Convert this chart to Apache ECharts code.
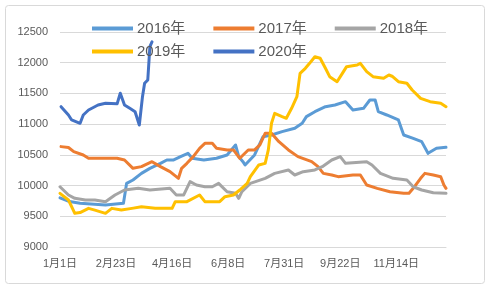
<!DOCTYPE html>
<html><head><meta charset="utf-8">
<script src="https://cdn.jsdelivr.net/npm/echarts@6/dist/echarts.min.js"></script>
<style>html,body{margin:0;padding:0;background:#fff}#c{width:487px;height:288px}</style>
</head><body><div id="c"></div>
<script>
// Calendar (leap year) used for the category axis
const monthDays = [31,29,31,30,31,30,31,31,30,31,30,31];
const categories = [];
monthDays.forEach((n, m) => { for (let d = 1; d <= n; d++) categories.push((m + 1) + '月' + d + '日'); });

const seriesNames = ['2016年','2017年','2018年','2019年','2020年'];
const colors = ['#5B9BD5','#ED7D31','#A5A5A5','#FFC000','#4472C4'];

// day index (0 = 1月1日) and price for each year
const days2016 = [0,9,19,43,60,63,69,77,85,95,101,107,114,121,125,136,148,158,166,169,173,175,184,192,200,210,222,229,233,241,251,260,270,277,287,293,298,301,309,320,325,334,342,348,356,365];
const vals2016 = [9800,9740,9711,9684,9711,10036,10091,10199,10280,10362,10416,10416,10471,10525,10444,10416,10444,10498,10661,10471,10389,10335,10498,10796,10823,10878,10932,11014,11122,11203,11284,11312,11366,11230,11258,11393,11393,11203,11149,11068,10823,10769,10715,10525,10607,10623];

const days2017 = [1,8,13,22,27,54,61,69,77,87,95,104,112,115,120,126,132,137,144,148,158,164,170,178,184,189,194,200,207,216,225,238,244,249,257,263,277,284,290,300,312,325,330,334,341,345,353,360,363,365];
const vals2017 = [10634,10620,10552,10498,10444,10444,10416,10281,10308,10389,10308,10226,10118,10281,10362,10471,10607,10688,10688,10607,10580,10580,10444,10580,10580,10661,10851,10851,10715,10580,10471,10389,10308,10199,10172,10145,10172,10172,10009,9955,9900,9874,9874,9955,10118,10199,10172,10145,10009,9955];

const days2018 = [0,8,14,24,33,43,52,61,74,85,104,110,117,123,129,137,144,150,158,166,169,172,180,194,203,216,222,230,241,248,257,265,270,290,295,303,315,328,334,342,353,365];
const vals2018 = [9981,9847,9792,9765,9765,9738,9847,9928,9955,9928,9955,9847,9847,10064,10009,9981,9981,10036,9900,9874,9792,9900,10036,10118,10199,10254,10172,10226,10254,10308,10416,10471,10362,10389,10335,10199,10118,10091,9981,9928,9884,9874];

const days2019 = [0,8,14,19,27,33,43,49,58,68,77,90,106,109,120,132,137,151,156,164,170,177,180,188,194,197,200,203,210,214,219,224,227,232,236,241,246,251,255,262,267,271,281,284,290,296,306,311,314,320,328,333,341,350,360,365];
const vals2019 = [9874,9765,9548,9560,9629,9600,9548,9629,9602,9629,9656,9629,9629,9738,9738,9847,9738,9738,9819,9847,9928,10036,10145,10335,10362,10580,11014,11176,11122,11095,11258,11447,11827,11909,11990,12098,12072,11909,11773,11691,11827,11936,11963,11990,11854,11773,11746,11800,11780,11691,11665,11556,11420,11366,11340,11284];

const days2020 = [1,8,11,19,22,27,36,43,54,57,61,66,71,75,78,80,83,85,87];
const vals2020 = [11284,11149,11068,11014,11149,11230,11312,11340,11330,11502,11312,11258,11203,10986,11447,11665,11719,12261,12340];

const yTicks = { min: 9000, max: 12500, interval: 500 };

const allDays = [days2016, days2017, days2018, days2019, days2020];
const allVals = [vals2016, vals2017, vals2018, vals2019, vals2020];

const font = "'Liberation Sans','Noto Sans CJK SC',sans-serif";
const chart = echarts.init(document.getElementById('c'), null, { renderer: 'canvas' });
chart.setOption({
  animation: false,
  backgroundColor: '#fff',
  graphic: [{ type: 'rect', left: 3, top: 3, shape: { width: 479, height: 278, r: 3 }, style: { fill: 'none', stroke: '#D9D9D9', lineWidth: 1 }, silent: true }],
  legend: [
    { data: seriesNames.slice(0, 3), left: 87, top: 16, itemWidth: 41, itemHeight: 4, itemGap: 28, icon: 'rect',
      textStyle: { fontSize: 15, color: '#595959', fontFamily: font, padding: [0, 0, 0, -1] } },
    { data: seriesNames.slice(3), left: 87, top: 39, itemWidth: 41, itemHeight: 4, itemGap: 28, icon: 'rect',
      textStyle: { fontSize: 15, color: '#595959', fontFamily: font, padding: [0, 0, 0, -1] } }
  ],
  grid: { left: 60, right: 41, top: 32, bottom: 41, containLabel: false },
  xAxis: {
    type: 'category', data: categories, boundaryGap: false,
    axisLine: { lineStyle: { color: '#D9D9D9' } }, axisTick: { show: false },
    axisLabel: { interval: 52, color: '#595959', fontSize: 11, fontFamily: font, margin: 11 },
    splitLine: { show: false }
  },
  yAxis: {
    type: 'value', min: yTicks.min, max: yTicks.max, interval: yTicks.interval,
    axisLine: { show: false }, axisTick: { show: false },
    axisLabel: { color: '#595959', fontSize: 11, fontFamily: font, margin: 12, formatter: v => String(v) },
    splitLine: { lineStyle: { color: '#D9D9D9', width: 1 } }
  },
  series: seriesNames.map((name, i) => ({
    name, type: 'line', showSymbol: false, symbol: 'none',
    color: colors[i],
    lineStyle: { width: 3, color: colors[i], cap: 'round', join: 'round' },
    data: allDays[i].map((d, k) => [d, allVals[i][k]])
  }))
});
</script></body></html>
